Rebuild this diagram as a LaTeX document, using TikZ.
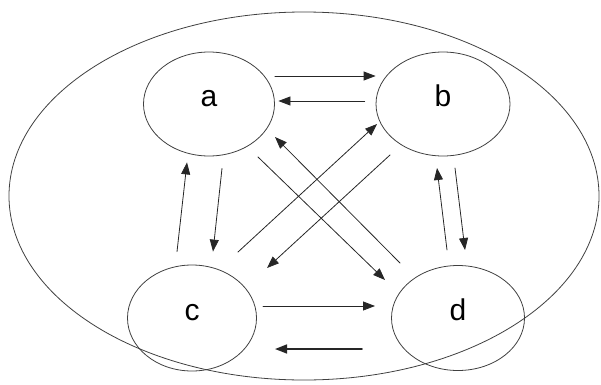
\documentclass[tikz,border=0pt]{standalone}
\usepackage{fontspec}
\setmainfont{Liberation Sans}
\usetikzlibrary{arrows.meta,shapes.geometric}
\tikzset{
  etat/.style={ellipse, draw=black!75, line width=0.8pt, inner sep=0pt,
    font=\fontsize{30}{30}\selectfont, text height=21pt, text depth=16pt},
  fl/.style={-{Triangle[length=12pt,width=9pt]}, draw=black!85, line width=0.8pt},
}
\begin{document}
\begin{tikzpicture}[line cap=round,line join=round,x=1pt,y=1pt]
		\useasboundingbox (0,0) rectangle (601,384);
		% grande ellipse
		\draw[black!75, line width=0.8pt] (304,188) ellipse (295 and 184);
		% sommets
		\node[etat, minimum width=131pt, minimum height=104pt] (a) at (209,280) {a};
		\node[etat, minimum width=134pt, minimum height=104pt] (b) at (443,280) {b};
		\node[etat, minimum width=129pt, minimum height=106pt] (c) at (192,66) {c};
		\node[etat, minimum width=133pt, minimum height=105pt] (d) at (458,66) {d};
		% a et b
		\draw[fl] ([yshift=28pt]a.east) -- ([yshift=28pt]b.west);
		\draw[fl] ([shift={(-11,3)}]b.west) -- ([shift={(3.5,3)}]a.east);
		% a et c
		\draw[fl] ([shift={(13,-12)}]a.south) -- ([shift={(21,13)}]c.north);
		\draw[fl] ([shift={(-15,13)}]c.north) -- ([shift={(-22,-6)}]a.south);
		% diagonales
		\draw[fl] ([shift={(49,-53)}]a.center) -- ([shift={(-73,38)}]d.center);
		\draw[fl] ([shift={(-58,55)}]d.center) -- ([shift={(66,-33)}]a.center);
		\draw[fl] ([shift={(46,66)}]c.center) -- ([shift={(-66,-20)}]b.center);
		\draw[fl] ([shift={(-53,-51)}]b.center) -- ([shift={(75,50)}]c.center);
		% b et d
		\draw[fl] ([shift={(-11,68)}]d.center) -- ([shift={(-6,-64)}]b.center);
		\draw[fl] ([shift={(12,-64)}]b.center) -- ([shift={(7,68)}]d.center);
		% c et d
		\draw[fl] ([shift={(71,12)}]c.center) -- ([shift={(-83,12)}]d.center);
		\draw[fl, line width=1.6pt] ([shift={(-96,-31)}]d.center) -- ([shift={(83,-31)}]c.center);
\end{tikzpicture}
\end{document}
